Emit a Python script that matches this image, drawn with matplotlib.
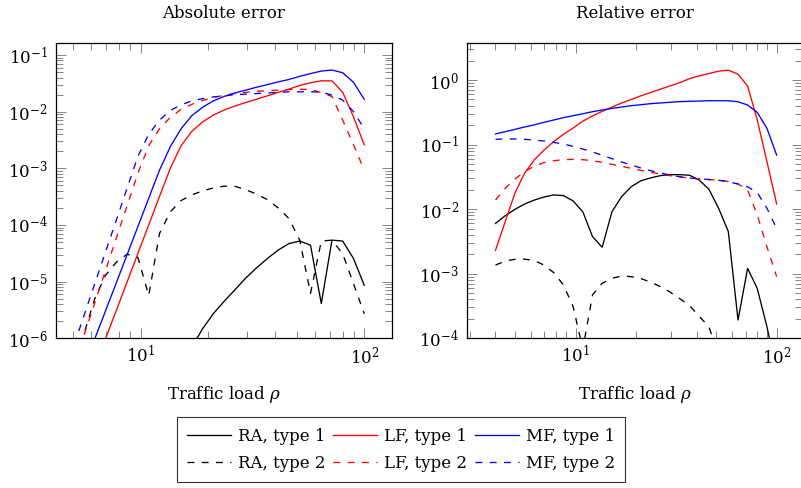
import matplotlib
matplotlib.use("Agg")
import matplotlib.pyplot as plt
from matplotlib.ticker import LogLocator, NullFormatter, LogFormatterSciNotation

plt.rcParams['font.family'] = ['DejaVu Serif']
plt.rcParams['mathtext.fontset'] = 'dejavuserif'

# traffic load rho
rho = [4.0, 4.47, 4.995, 5.58, 6.237, 6.97, 7.789, 8.704, 9.726, 10.87,
       12.15, 13.57, 15.17, 16.95, 18.94, 21.16, 23.65, 26.43, 29.53, 33.0,
       36.88, 41.21, 46.05, 51.46, 57.5, 64.26, 71.71, 80.1, 89.51, 100.0]

# ---- Absolute error ----
abs_ra1 = [2e-10, 5e-10, 1e-9, 2e-9, 4e-9, 8e-9, 1.5e-8, 2.5e-8, 4e-8, 7e-8,
           1.2e-7, 2e-7, 3.5e-7, 7e-7, 1.48e-6, 2.73e-6, 4.5e-6, 7.2e-6, 1.16e-5, 1.75e-5,
           2.56e-5, 3.6e-5, 4.7e-5, 5.2e-5, 4.4e-5, 4.1e-6, 5.4e-5, 5.2e-5, 2.56e-5, 8.6e-6]
abs_ra2 = [3e-8, 8e-8, 2.5e-7, 1.2e-6, 5e-6, 1.3e-5, 2.2e-5, 3.05e-5, 2.67e-5, 5.7e-6,
           7.1e-5, 1.7e-4, 2.7e-4, 3.4e-4, 4.0e-4, 4.5e-4, 4.85e-4, 4.8e-4, 4.2e-4, 3.5e-4,
           2.8e-4, 2.0e-4, 1.3e-4, 5.4e-5, 6.2e-6, 5.2e-5, 5.4e-5, 3.1e-5, 9.2e-6, 2.7e-6]
abs_lf1 = [3.2e-9, 1e-8, 3.2e-8, 1e-7, 3.2e-7, 9.9e-7, 3.1e-6, 9.9e-6, 3.15e-5, 1e-4,
           3.2e-4, 1e-3, 2.5e-3, 4.5e-3, 6.6e-3, 8.7e-3, 1.07e-2, 1.26e-2, 1.45e-2, 1.66e-2,
           1.9e-2, 2.19e-2, 2.5e-2, 2.9e-2, 3.24e-2, 3.5e-2, 3.5e-2, 2.2e-2, 8.1e-3, 2.6e-3]
abs_lf2 = [2.5e-8, 1e-7, 3.2e-7, 1.14e-6, 4.2e-6, 1.58e-5, 5.9e-5, 2.2e-4, 8.2e-4, 2.5e-3,
           5e-3, 7.9e-3, 1.1e-2, 1.35e-2, 1.58e-2, 1.78e-2, 1.95e-2, 2.09e-2, 2.19e-2, 2.29e-2,
           2.34e-2, 2.4e-2, 2.45e-2, 2.48e-2, 2.48e-2, 2.16e-2, 1.85e-2, 7.1e-3, 2.6e-3, 9.3e-4]
abs_mf1 = [1e-8, 3.2e-8, 1e-7, 3.2e-7, 9.8e-7, 3.06e-6, 9.6e-6, 3.0e-5, 9.4e-5, 2.96e-4,
           9.3e-4, 2.4e-3, 5.0e-3, 8.5e-3, 1.2e-2, 1.55e-2, 1.86e-2, 2.14e-2, 2.4e-2, 2.7e-2,
           3.0e-2, 3.35e-2, 3.7e-2, 4.2e-2, 4.7e-2, 5.2e-2, 5.43e-2, 4.86e-2, 3.3e-2, 1.65e-2]
abs_mf2 = [5e-8, 2e-7, 6.9e-7, 2.5e-6, 9.2e-6, 3.36e-5, 1.22e-4, 4.5e-4, 1.63e-3, 4.0e-3,
           7.1e-3, 1.05e-2, 1.32e-2, 1.55e-2, 1.7e-2, 1.82e-2, 1.9e-2, 2.0e-2, 2.04e-2, 2.09e-2,
           2.14e-2, 2.19e-2, 2.24e-2, 2.24e-2, 2.25e-2, 2.21e-2, 1.96e-2, 1.6e-2, 1.0e-2, 5.0e-3]

# ---- Relative error ----
rel_ra1 = [6.0e-3, 7.9e-3, 9.9e-3, 1.2e-2, 1.38e-2, 1.54e-2, 1.66e-2, 1.62e-2, 1.34e-2, 9.1e-3,
           3.75e-3, 2.57e-3, 9.1e-3, 1.56e-2, 2.23e-2, 2.75e-2, 3.05e-2, 3.3e-2, 3.42e-2, 3.42e-2,
           3.35e-2, 2.82e-2, 2.03e-2, 1.03e-2, 4.5e-3, 1.92e-4, 1.21e-3, 5.9e-4, 1.5e-4, 3e-5]
rel_ra2 = [1.36e-3, 1.57e-3, 1.67e-3, 1.68e-3, 1.6e-3, 1.36e-3, 1.04e-3, 6.7e-4, 3.1e-4, 6.8e-5,
           4.7e-4, 7.1e-4, 8.5e-4, 9.2e-4, 9.0e-4, 8.4e-4, 7.4e-4, 6.3e-4, 5.2e-4, 4.1e-4,
           3.2e-4, 2.2e-4, 1.5e-4, 5.5e-5, 3e-6, 2.5e-5, 2e-5, 8e-6, 2e-6, 4e-7]
rel_lf1 = [2.3e-3, 6.4e-3, 1.76e-2, 3.6e-2, 5.8e-2, 8.2e-2, 0.111, 0.144, 0.18, 0.23,
           0.277, 0.327, 0.38, 0.44, 0.5, 0.57, 0.64, 0.72, 0.81, 0.91,
           1.05, 1.16, 1.26, 1.37, 1.42, 1.23, 0.805, 0.24, 0.054, 0.012]
rel_lf2 = [1.38e-2, 2.1e-2, 2.92e-2, 3.8e-2, 4.65e-2, 5.24e-2, 5.62e-2, 5.83e-2, 5.9e-2, 5.83e-2,
           5.62e-2, 5.3e-2, 4.94e-2, 4.6e-2, 4.28e-2, 3.99e-2, 3.72e-2, 3.5e-2, 3.3e-2, 3.14e-2,
           3.03e-2, 2.95e-2, 2.87e-2, 2.8e-2, 2.68e-2, 2.45e-2, 1.98e-2, 8.1e-3, 2.6e-3, 9.0e-4]
rel_mf1 = [0.146, 0.158, 0.172, 0.187, 0.202, 0.221, 0.24, 0.261, 0.28, 0.30,
           0.323, 0.342, 0.363, 0.381, 0.40, 0.414, 0.43, 0.44, 0.452, 0.462,
           0.467, 0.472, 0.477, 0.477, 0.477, 0.46, 0.41, 0.315, 0.178, 0.0687]
rel_mf2 = [0.1205, 0.122, 0.122, 0.1205, 0.1175, 0.1135, 0.108, 0.102, 0.0938, 0.0853,
           0.0767, 0.0681, 0.0605, 0.0537, 0.0482, 0.0433, 0.0394, 0.0362, 0.0337, 0.0318,
           0.0303, 0.0295, 0.0287, 0.028, 0.0265, 0.0245, 0.0222, 0.018, 0.0103, 0.005]

labels = ["RA, type 1", "RA, type 2", "LF, type 1", "LF, type 2", "MF, type 1", "MF, type 2"]
colors = ["black", "black", "#ff0000", "#ff0000", "#0000ff", "#0000ff"]
styles = ["solid", "dashed", "solid", "dashed", "solid", "dashed"]

abs_series = [abs_ra1, abs_ra2, abs_lf1, abs_lf2, abs_mf1, abs_mf2]
rel_series = [rel_ra1, rel_ra2, rel_lf1, rel_lf2, rel_mf1, rel_mf2]

fig = plt.figure(figsize=(8.01, 4.88), dpi=100)
ax1 = fig.add_axes([0.0695, 0.3068, 0.4202, 0.6045])
ax2 = fig.add_axes([0.5834, 0.3068, 0.4178, 0.6045])

LW = 0.95
DASH = (5.2, 5.6)

handles = []
for ax, series in ((ax1, abs_series), (ax2, rel_series)):
    for s, lab, c, st in zip(series, labels, colors, styles):
        ln, = ax.plot(rho, s, color=c, lw=LW, label=lab)
        if st == "dashed":
            ln.set_dashes(DASH)
        if ax is ax1:
            handles.append(ln)
    ax.set_xscale('log')
    ax.set_yscale('log')
    for sp in ax.spines.values():
        sp.set_linewidth(0.9)
        sp.set_color('black')
    ax.xaxis.set_major_locator(LogLocator(base=10, numticks=20))
    ax.xaxis.set_minor_locator(LogLocator(base=10, subs=range(2, 10), numticks=20))
    ax.yaxis.set_major_locator(LogLocator(base=10, numticks=20))
    ax.yaxis.set_minor_locator(LogLocator(base=10, subs=range(2, 10), numticks=20))
    ax.xaxis.set_minor_formatter(NullFormatter())
    ax.yaxis.set_minor_formatter(NullFormatter())
    ax.xaxis.set_major_formatter(LogFormatterSciNotation())
    ax.yaxis.set_major_formatter(LogFormatterSciNotation())
    ax.tick_params(which='both', direction='in', top=True, right=True,
                   color='#555555', width=0.5, labelsize=12)
    ax.tick_params(which='major', length=7.2)
    ax.tick_params(which='minor', length=5)
    ax.tick_params(axis='x', which='major', pad=5)
    ax.tick_params(axis='y', which='major', pad=6)
    ax.set_xlabel(r"Traffic load $\rho$", fontsize=12, labelpad=12)

ax1.set_xlim(4.17, 133.4)
ax1.set_ylim(1e-6, 0.161)
ax2.set_xlim(2.897, 133.6)
ax2.set_ylim(1e-4, 3.70)

ax1.set_title("Absolute error", fontsize=12, pad=18.5)
ax2.set_title("Relative error", fontsize=12, pad=18.5)

leg = fig.legend(handles=handles, labels=labels, loc='center',
                 bbox_to_anchor=(0.5006, 0.0779), ncol=3, fontsize=12,
                 frameon=True, fancybox=False, edgecolor='black',
                 handlelength=2.64, handletextpad=0.42, columnspacing=0.46,
                 labelspacing=0.62, borderpad=0.62, borderaxespad=0)
leg.get_frame().set_linewidth(0.8)

fig.savefig("out.png", dpi=100)
